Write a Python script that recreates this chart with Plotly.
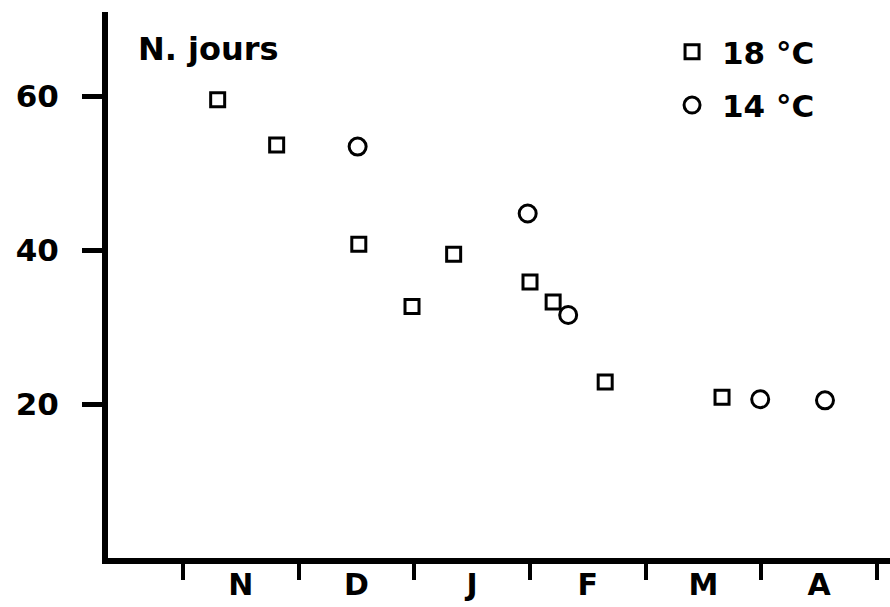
import plotly.graph_objects as go

# x in months counted from 1 November (N=0..1, D=1..2, ...)
month_labels = ["N", "D", "J", "F", "M", "A"]
month_centers = [0.5, 1.5, 2.5, 3.5, 4.5, 5.5]
month_bounds = [0, 1, 2, 3, 4, 5, 6]

x18 = [0.30, 0.81, 1.52, 1.98, 2.34, 3.00, 3.20, 3.65, 4.66]
y18 = [59.6, 53.7, 40.8, 32.7, 39.5, 35.9, 33.3, 22.9, 20.9]

x14 = [1.51, 2.98, 3.33, 4.99, 5.55]
y14 = [53.5, 44.8, 31.6, 20.65, 20.5]

y_ticks = [20, 40, 60]
y_ticktext = ["20", "40", "60"]

FONT = "DejaVu Sans"

fig = go.Figure()
fig.add_trace(go.Scatter(
    x=x18, y=y18, mode="markers", name="18 °C", legendgroup="a",
    marker=dict(symbol="square-open", size=14, color="black", line=dict(width=3, color="black")),
))
fig.add_trace(go.Scatter(
    x=x14, y=y14, mode="markers", name="14 °C", legendgroup="b",
    marker=dict(symbol="circle-open", size=17, color="black", line=dict(width=3, color="black")),
))

fig.update_layout(
    width=890, height=607,
    margin=dict(l=108, r=0, t=12, b=49),
    paper_bgcolor="white", plot_bgcolor="white",
    font=dict(family=FONT, color="black", size=30, weight="bold"),
    showlegend=True,
    legend=dict(
        x=0.7085, y=0.976, xanchor="left", yanchor="top",
        font=dict(family=FONT, size=31, color="black", weight="bold"),
        bgcolor="rgba(0,0,0,0)", tracegroupgap=10, itemwidth=50,
    ),
    xaxis=dict(
        range=[-0.648, 6.112], automargin=False,
        tickmode="array", tickvals=month_centers, ticktext=month_labels,
        ticks="", showgrid=False, zeroline=False,
        showline=True, linecolor="black", linewidth=6,
        tickfont=dict(family=FONT, size=30, weight="bold"),
        ticklabelstandoff=-5,
        minor=dict(tickmode="array", tickvals=month_bounds, ticks="outside",
                   ticklen=16, tickwidth=4, tickcolor="black", showgrid=False),
    ),
    yaxis=dict(
        range=[0, 71], automargin=False,
        tickmode="array", tickvals=y_ticks, ticktext=y_ticktext,
        ticks="outside", ticklen=20, tickwidth=5, tickcolor="black",
        showgrid=False, zeroline=False,
        showline=True, linecolor="black", linewidth=6,
        tickfont=dict(family=FONT, size=31, weight="bold"),
        ticklabelstandoff=17,
    ),
    annotations=[dict(
        text="N. jours", xref="paper", yref="paper", x=0.036, y=0.971,
        xanchor="left", yanchor="top", showarrow=False,
        font=dict(family=FONT, size=32, color="black", weight="bold"),
    )],
)

fig.write_html("out.html")
